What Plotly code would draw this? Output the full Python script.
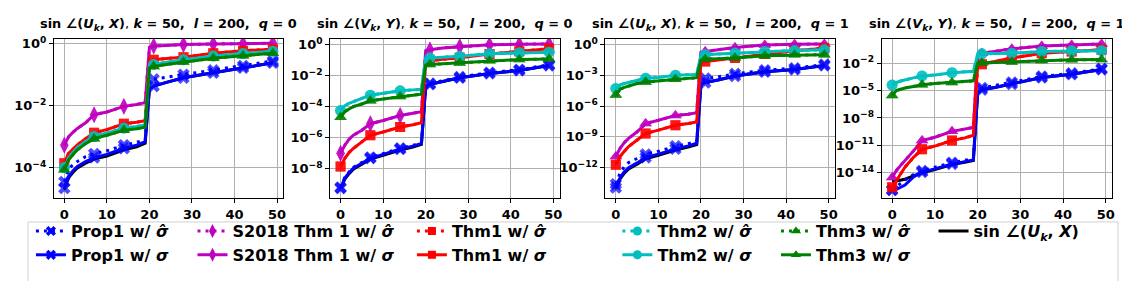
import numpy as np
import plotly.graph_objects as go

W, H = 1130, 281

# ---------------- data (stored as log10) ----------------
x_grid = [0, 1, 2, 3, 5, 7, 10, 14, 17, 19, 20, 21, 24, 28, 35, 42, 49]
marker_x = [0, 7, 14, 21, 28, 35, 42, 49]
x_ticks = [0, 10, 20, 30, 40, 50]

# Panel 1: sin∠(U_k,X), q=0
p1_true = [-4.7, -4.32, -4.15, -4.01, -3.85, -3.72, -3.62, -3.42, -3.32, -3.21, -1.45, -1.37, -1.25, -1.1, -0.94, -0.78, -0.62]
p1_prop1_hat = [-4.45, -4.05, -3.9, -3.8, -3.64, -3.55, -3.45, -3.27, -3.18, -3.1, -1.22, -1.15, -1.08, -1.0, -0.86, -0.72, -0.56]
p1_prop1_sig = [-4.65, -4.27, -4.1, -3.96, -3.8, -3.67, -3.57, -3.37, -3.27, -3.16, -1.45, -1.37, -1.25, -1.1, -0.94, -0.78, -0.62]
p1_s2018 = [-3.27, -3.0, -2.86, -2.74, -2.55, -2.29, -2.2, -2.02, -1.96, -1.9, -0.12, -0.08, -0.06, -0.03, -0.01, 0.0, 0.01]
p1_thm1 = [-3.85, -3.53, -3.4, -3.27, -3.06, -2.87, -2.77, -2.58, -2.53, -2.48, -0.56, -0.52, -0.48, -0.44, -0.31, -0.23, -0.18]
p1_thm2 = [-3.99, -3.68, -3.51, -3.36, -3.15, -2.99, -2.88, -2.72, -2.67, -2.62, -0.71, -0.67, -0.6, -0.52, -0.4, -0.32, -0.25]
p1_thm3 = [-4.06, -3.75, -3.58, -3.43, -3.22, -3.06, -2.95, -2.79, -2.74, -2.69, -0.78, -0.74, -0.67, -0.59, -0.47, -0.39, -0.31]

# Panel 2: sin∠(V_k,Y), q=0
p2_true = [-9.3, -8.66, -8.31, -8.02, -7.7, -7.38, -7.13, -6.79, -6.6, -6.43, -2.7, -2.56, -2.38, -2.14, -1.86, -1.67, -1.35]
p2_prop1_hat = [-9.2, -8.55, -8.2, -7.91, -7.59, -7.27, -7.02, -6.68, -6.49, -6.32, -2.65, -2.51, -2.33, -2.09, -1.81, -1.62, -1.3]
p2_prop1_sig = [-9.25, -8.6, -8.25, -7.96, -7.64, -7.32, -7.07, -6.73, -6.54, -6.37, -2.7, -2.56, -2.38, -2.14, -1.86, -1.67, -1.35]
p2_s2018 = [-7.0, -6.48, -6.1, -5.84, -5.52, -5.1, -4.89, -4.57, -4.42, -4.32, -0.4, -0.34, -0.22, -0.13, -0.02, 0.02, 0.04]
p2_thm1 = [-7.85, -7.32, -6.95, -6.69, -6.27, -5.84, -5.63, -5.31, -5.16, -5.04, -1.1, -1.05, -0.95, -0.85, -0.61, -0.44, -0.27]
p2_thm2 = [-4.25, -3.94, -3.78, -3.66, -3.47, -3.26, -3.13, -2.98, -2.92, -2.88, -0.92, -0.87, -0.82, -0.76, -0.59, -0.53, -0.49]
p2_thm3 = [-4.68, -4.32, -4.15, -4.0, -3.83, -3.62, -3.51, -3.35, -3.26, -3.2, -1.33, -1.29, -1.24, -1.19, -1.04, -0.97, -0.93]

# Panel 3: sin∠(U_k,X), q=1
p3_true = [-14.05, -13.09, -12.52, -12.12, -11.65, -11.12, -10.79, -10.28, -9.99, -9.74, -3.85, -3.7, -3.45, -3.07, -2.65, -2.43, -2.04]
p3_prop1_hat = [-13.6, -12.5, -11.9, -11.5, -11.1, -10.7, -10.4, -9.9, -9.65, -9.45, -3.5, -3.3, -3.15, -2.85, -2.5, -2.3, -1.95]
p3_prop1_sig = [-13.93, -12.97, -12.4, -12.0, -11.53, -11.0, -10.67, -10.16, -9.87, -9.62, -3.85, -3.7, -3.45, -3.07, -2.65, -2.43, -2.04]
p3_s2018 = [-10.9, -10.1, -9.55, -9.14, -8.5, -7.7, -7.38, -6.9, -6.78, -6.65, -0.75, -0.67, -0.5, -0.29, -0.03, 0.03, 0.06]
p3_thm1 = [-11.7, -10.9, -10.4, -9.94, -9.3, -8.66, -8.34, -7.86, -7.7, -7.55, -1.75, -1.65, -1.5, -1.31, -0.93, -0.61, -0.35]
p3_thm2 = [-4.28, -3.93, -3.8, -3.71, -3.48, -3.29, -3.2, -3.0, -2.94, -2.91, -1.05, -0.99, -0.92, -0.83, -0.67, -0.58, -0.51]
p3_thm3 = [-4.92, -4.35, -4.17, -4.03, -3.8, -3.64, -3.52, -3.39, -3.29, -3.23, -1.5, -1.42, -1.37, -1.31, -1.08, -1.0, -0.98]

# Panel 4: sin∠(V_k,Y), q=1
p4_true = [-15.0, -14.92, -14.85, -14.72, -14.35, -14.0, -13.65, -13.1, -12.85, -12.67, -5.3, -4.9, -4.65, -4.28, -3.57, -3.21, -2.68]
p4_prop1_hat = [-15.9, -15.5, -15.1, -14.8, -14.2, -13.8, -13.4, -12.9, -12.65, -12.45, -5.0, -4.7, -4.45, -4.1, -3.45, -3.1, -2.6]
p4_prop1_sig = [-15.9, -15.82, -15.6, -15.36, -14.46, -13.93, -13.58, -13.04, -12.79, -12.61, -5.3, -4.9, -4.65, -4.28, -3.57, -3.21, -2.68]
p4_s2018 = [-14.54, -13.75, -13.2, -12.68, -11.61, -10.47, -10.11, -9.47, -9.21, -9.04, -1.1, -0.9, -0.7, -0.42, -0.1, 0.0, 0.11]
p4_thm1 = [-15.6, -14.83, -14.1, -13.4, -12.32, -11.43, -11.08, -10.47, -10.18, -9.9, -2.3, -2.1, -1.8, -1.43, -0.9, -0.71, -0.53]
p4_thm2 = [-4.39, -4.11, -3.95, -3.82, -3.6, -3.39, -3.29, -3.04, -2.96, -2.89, -1.1, -0.97, -0.93, -0.9, -0.71, -0.64, -0.62]
p4_thm3 = [-5.54, -5.0, -4.85, -4.71, -4.54, -4.36, -4.22, -4.11, -4.0, -3.93, -2.0, -1.96, -1.92, -1.86, -1.71, -1.63, -1.6]

# (for S2018/Thm1/Thm2/Thm3 the σ̂ and σ curves coincide in the picture)
panels = [
    dict(true=p1_true, prop1_hat=p1_prop1_hat, prop1_sig=p1_prop1_sig,
         s2018_hat=p1_s2018, s2018_sig=p1_s2018, thm1_hat=p1_thm1, thm1_sig=p1_thm1,
         thm2_hat=p1_thm2, thm2_sig=p1_thm2, thm3_hat=p1_thm3, thm3_sig=p1_thm3),
    dict(true=p2_true, prop1_hat=p2_prop1_hat, prop1_sig=p2_prop1_sig,
         s2018_hat=p2_s2018, s2018_sig=p2_s2018, thm1_hat=p2_thm1, thm1_sig=p2_thm1,
         thm2_hat=p2_thm2, thm2_sig=p2_thm2, thm3_hat=p2_thm3, thm3_sig=p2_thm3),
    dict(true=p3_true, prop1_hat=p3_prop1_hat, prop1_sig=p3_prop1_sig,
         s2018_hat=p3_s2018, s2018_sig=p3_s2018, thm1_hat=p3_thm1, thm1_sig=p3_thm1,
         thm2_hat=p3_thm2, thm2_sig=p3_thm2, thm3_hat=p3_thm3, thm3_sig=p3_thm3),
    dict(true=p4_true, prop1_hat=p4_prop1_hat, prop1_sig=p4_prop1_sig,
         s2018_hat=p4_s2018, s2018_sig=p4_s2018, thm1_hat=p4_thm1, thm1_sig=p4_thm1,
         thm2_hat=p4_thm2, thm2_sig=p4_thm2, thm3_hat=p4_thm3, thm3_sig=p4_thm3),
]

titles = [
    "sin ∠(<i>U<sub>k</sub></i>, <i>X</i>)<span style='font-weight:normal'>,</span> <i>k</i> = 50,\u00a0 <i>l</i> = 200,\u00a0 <i>q</i> = 0",
    "sin ∠(<i>V<sub>k</sub></i>, <i>Y</i>)<span style='font-weight:normal'>,</span> <i>k</i> = 50,\u00a0 <i>l</i> = 200,\u00a0 <i>q</i> = 0",
    "sin ∠(<i>U<sub>k</sub></i>, <i>X</i>)<span style='font-weight:normal'>,</span> <i>k</i> = 50,\u00a0 <i>l</i> = 200,\u00a0 <i>q</i> = 1",
    "sin ∠(<i>V<sub>k</sub></i>, <i>Y</i>)<span style='font-weight:normal'>,</span> <i>k</i> = 50,\u00a0 <i>l</i> = 200,\u00a0 <i>q</i> = 1",
]

y_tickvals = [
    [1e0, 1e-2, 1e-4],
    [1e0, 1e-2, 1e-4, 1e-6, 1e-8],
    [1e0, 1e-3, 1e-6, 1e-9, 1e-12],
    [1e-2, 1e-5, 1e-8, 1e-11, 1e-14],
]
y_ticktext = [
    ["10<sup>0</sup>", "10<sup>−2</sup>", "10<sup>−4</sup>"],
    ["10<sup>0</sup>", "10<sup>−2</sup>", "10<sup>−4</sup>", "10<sup>−6</sup>", "10<sup>−8</sup>"],
    ["10<sup>0</sup>", "10<sup>−3</sup>", "10<sup>−6</sup>", "10<sup>−9</sup>", "10<sup>−12</sup>"],
    ["10<sup>−2</sup>", "10<sup>−5</sup>", "10<sup>−8</sup>", "10<sup>−11</sup>", "10<sup>−14</sup>"],
]
y_ranges = [[-4.98, 0.16], [-9.9, 0.38], [-14.98, 0.58], [-16.81, 0.70]]

# ---------------- styles ----------------
BLUE, MAG, RED, CYAN, GREEN = "#0000ff", "#bf00bf", "#ff0000", "#00bfbf", "#008000"
DOT = "3px,5px"
series = [
    # key, name, color, dash, symbol, size, legend
    ("true", "sin ∠(<i>U<sub>k</sub></i>, <i>X</i>)", "#000000", "solid", None, 0, "legend6"),
    ("prop1_hat", "Prop1 w/ <i>σ̂</i>", BLUE, DOT, "x", 11, "legend"),
    ("prop1_sig", "Prop1 w/ <i>σ</i>", BLUE, "solid", "x", 11, "legend"),
    ("s2018_hat", "S2018 Thm 1 w/ <i>σ̂</i>", MAG, DOT, "diamond-tall", 12, "legend2"),
    ("s2018_sig", "S2018 Thm 1 w/ <i>σ</i>", MAG, "solid", "diamond-tall", 12, "legend2"),
    ("thm1_hat", "Thm1 w/ <i>σ̂</i>", RED, DOT, "square", 10, "legend3"),
    ("thm1_sig", "Thm1 w/ <i>σ</i>", RED, "solid", "square", 10, "legend3"),
    ("thm2_hat", "Thm2 w/ <i>σ̂</i>", CYAN, DOT, "circle", 11, "legend4"),
    ("thm2_sig", "Thm2 w/ <i>σ</i>", CYAN, "solid", "circle", 11, "legend4"),
    ("thm3_hat", "Thm3 w/ <i>σ̂</i>", GREEN, DOT, "triangle-up", 11, "legend5"),
    ("thm3_sig", "Thm3 w/ <i>σ</i>", GREEN, "solid", "triangle-up", 11, "legend5"),
]

x_dom_px = [(46, 276), (323, 553), (599, 829), (876, 1107)]
y_dom = [1 - 189 / H, 1 - 27 / H]

fig = go.Figure()
xg = np.array(x_grid)
is_mark = np.isin(xg, marker_x)

for p, data in enumerate(panels):
    xa = "x" if p == 0 else f"x{p+1}"
    ya = "y" if p == 0 else f"y{p+1}"
    for key, name, color, dash, symbol, size, lg in series:
        yv = np.power(10.0, np.array(data[key]))
        sym = symbol
        if key.startswith("s2018") and p >= 2:
            sym = "triangle-up"
            sz = 11
        else:
            sz = size
        if symbol is None:
            mode = "lines"
            marker = None
        else:
            mode = "lines+markers"
            marker = dict(symbol=sym, color=color, size=np.where(is_mark, sz, 0).tolist(),
                          line=dict(width=0))
        fig.add_trace(go.Scatter(x=x_grid, y=yv, mode=mode, xaxis=xa, yaxis=ya,
                                 line=dict(color=color, width=3, dash=dash),
                                 marker=marker, showlegend=False, hoverinfo="skip"))

# legend entries (no data, legend only)
for key, name, color, dash, symbol, size, lg in series:
    mode = "lines" if symbol is None else "lines+markers"
    marker = None if symbol is None else dict(symbol=symbol, color=color, size=size - 2, line=dict(width=0))
    fig.add_trace(go.Scatter(x=[None], y=[None], mode=mode, name=f"<b>{name}</b>",
                             line=dict(color=color, width=3, dash=dash), marker=marker,
                             legend=lg, showlegend=True, legendgroup=key, xaxis="x", yaxis="y"))

axis_common = dict(showline=True, linecolor="black", linewidth=1, mirror=True,
                   ticks="outside", ticklen=4, tickcolor="black",
                   showgrid=True, gridcolor="#b0b0b0", gridwidth=0.8, zeroline=False,
                   tickfont=dict(family="DejaVu Sans", size=13, color="black", weight="bold"))

layout = dict(width=W, height=H, margin=dict(l=0, r=0, t=0, b=0),
              paper_bgcolor="white", plot_bgcolor="white", showlegend=True)

for p in range(4):
    xk = "xaxis" if p == 0 else f"xaxis{p+1}"
    yk = "yaxis" if p == 0 else f"yaxis{p+1}"
    xa = "x" if p == 0 else f"x{p+1}"
    ya = "y" if p == 0 else f"y{p+1}"
    x0, x1 = x_dom_px[p]
    layout[xk] = dict(domain=[x0 / W, x1 / W], anchor=ya, range=[-2.45, 51.45],
                      tickvals=x_ticks, **axis_common)
    layout[yk] = dict(domain=y_dom, anchor=xa, type="log", range=y_ranges[p],
                      tickvals=y_tickvals[p], ticktext=y_ticktext[p], **axis_common)

annotations = []
for p in range(4):
    x0, x1 = x_dom_px[p]
    annotations.append(dict(text=f"<b>{titles[p]}</b>", x=(x0 + x1) / 2 / W, y=1 - 13 / H,
                            xref="paper", yref="paper", xanchor="center", yanchor="middle",
                            showarrow=False,
                            font=dict(family="DejaVu Sans", size=12.9, color="black")))
layout["annotations"] = annotations

text_starts = [65, 227, 447, 653, 812, 970]
leg_names = ["legend", "legend2", "legend3", "legend4", "legend5", "legend6"]
for name, tx in zip(leg_names, text_starts):
    layout[name] = dict(x=(tx - 42) / W, y=1 - 205 / H, xanchor="left", yanchor="top",
                        orientation="v", bgcolor="rgba(0,0,0,0)", borderwidth=0,
                        tracegroupgap=0, itemwidth=30,
                        font=dict(family="DejaVu Sans", size=16, color="black"))

layout["shapes"] = [dict(type="rect", xref="paper", yref="paper",
                         x0=20 / W, x1=1113 / W, y0=1 - 274 / H, y1=1 - 213 / H,
                         line=dict(color="#d0d0d0", width=1), fillcolor="rgba(0,0,0,0)")]

fig.update_layout(**layout)
fig.write_html("out.html")
